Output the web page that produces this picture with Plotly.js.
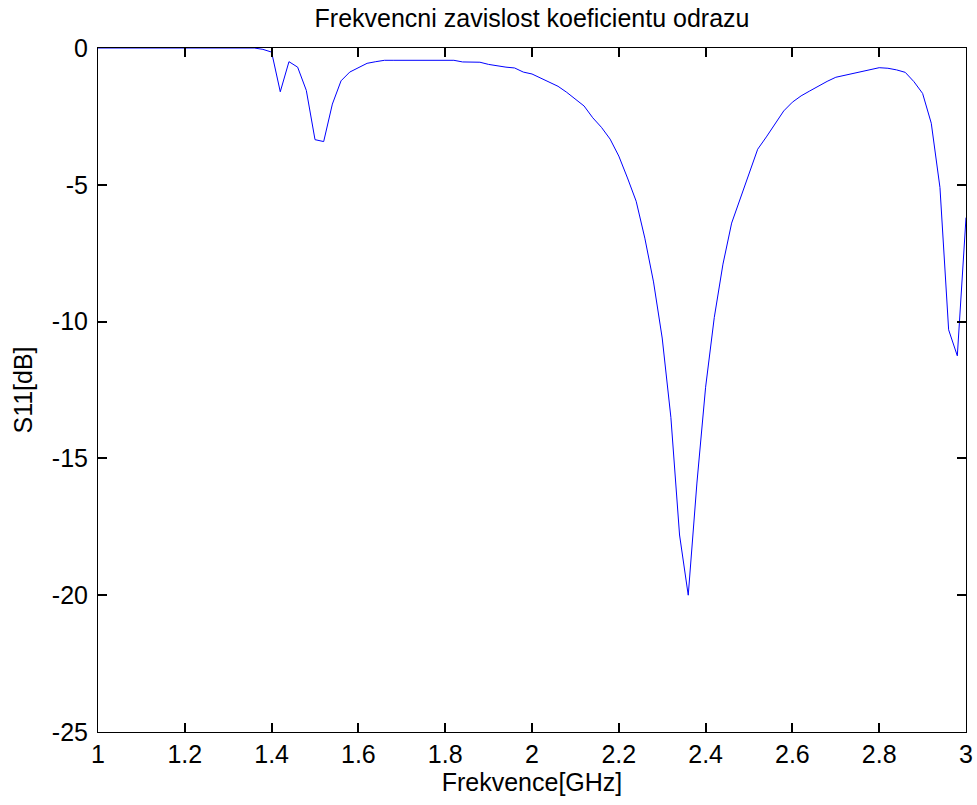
<!DOCTYPE html>
<html>
<head>
<meta charset="utf-8">
<script src="https://cdn.plot.ly/plotly-3.0.1.min.js"></script>
<style>html,body{margin:0;padding:0;background:#fff;}#chart{width:977px;height:805px;}</style>
</head>
<body>
<div id="chart"></div>
<script>
const freqGHz = [
  1.00, 1.02, 1.04, 1.06, 1.08, 1.10, 1.12, 1.14, 1.16, 1.18,
  1.20, 1.22, 1.24, 1.26, 1.28, 1.30, 1.32, 1.34, 1.36, 1.38,
  1.40, 1.42, 1.44, 1.46, 1.48, 1.50, 1.52, 1.54, 1.56, 1.58,
  1.60, 1.62, 1.64, 1.66, 1.68, 1.70, 1.72, 1.74, 1.76, 1.78,
  1.80, 1.82, 1.84, 1.86, 1.88, 1.90, 1.92, 1.94, 1.96, 1.98,
  2.00, 2.02, 2.04, 2.06, 2.08, 2.10, 2.12, 2.14, 2.16, 2.18,
  2.20, 2.22, 2.24, 2.26, 2.28, 2.30, 2.32, 2.34, 2.36, 2.38,
  2.40, 2.42, 2.44, 2.46, 2.48, 2.50, 2.52, 2.54, 2.56, 2.58,
  2.60, 2.62, 2.64, 2.66, 2.68, 2.70, 2.72, 2.74, 2.76, 2.78,
  2.80, 2.82, 2.84, 2.86, 2.88, 2.90, 2.92, 2.94, 2.96, 2.98,
  3.00
];
const s11dB = [
  0, 0, 0, 0, 0, 0, 0, 0, 0, 0,
  0, 0, 0, 0, 0, 0, 0, 0, 0, -0.05,
  -0.15, -1.6, -0.5, -0.7, -1.55, -3.35, -3.42, -2.05, -1.2, -0.88,
  -0.72, -0.56, -0.5, -0.45, -0.45, -0.45, -0.45, -0.45, -0.45, -0.45,
  -0.45, -0.45, -0.51, -0.51, -0.52, -0.6, -0.66, -0.7, -0.73, -0.88,
  -0.95, -1.1, -1.25, -1.4, -1.62, -1.88, -2.12, -2.55, -2.9, -3.33,
  -3.95, -4.75, -5.6, -6.95, -8.55, -10.6, -13.5, -17.8, -20.0, -15.9,
  -12.4, -9.85, -7.9, -6.4, -5.5, -4.55, -3.7, -3.25, -2.75, -2.3,
  -1.98, -1.75, -1.57, -1.38, -1.22, -1.07, -1.0, -0.93, -0.86, -0.79,
  -0.72, -0.74, -0.8, -0.89, -1.23, -1.66, -2.75, -5.1, -10.3, -11.25,
  -6.2
];
const xTicks = [1, 1.2, 1.4, 1.6, 1.8, 2, 2.2, 2.4, 2.6, 2.8, 3];
const xTickText = ['1', '1.2', '1.4', '1.6', '1.8', '2', '2.2', '2.4', '2.6', '2.8', '3'];
const yTicks = [-25, -20, -15, -10, -5, 0];
const yTickText = ['-25', '-20', '-15', '-10', '-5', '0'];

const fontFam = 'Liberation Sans, Arial, Helvetica, sans-serif';
const trace = {
  x: freqGHz, y: s11dB, type: 'scatter', mode: 'lines',
  line: {color: '#0000ff', width: 1}, hoverinfo: 'skip', cliponaxis: false
};
const axisCommon = {
  showline: true, linecolor: '#000', linewidth: 1, mirror: 'allticks',
  ticks: 'inside', ticklen: 9, tickcolor: '#000', tickwidth: 2,
  showgrid: false, zeroline: false, tickmode: 'array',
  tickfont: {family: fontFam, size: 25, color: '#000'}
};
const layout = {
  width: 977, height: 805,
  margin: {l: 98, r: 11, t: 48, b: 73, pad: 0},
  paper_bgcolor: '#fff', plot_bgcolor: 'rgba(0,0,0,0)',
  showlegend: false,
  font: {family: fontFam, color: '#000'},
  title: {text: 'Frekvencni zavislost koeficientu odrazu', font: {family: fontFam, size: 25, color: '#000'},
          xref: 'paper', x: 0.5, xanchor: 'center', yref: 'container', y: 1 - 18/805, yanchor: 'middle'},
  xaxis: Object.assign({}, axisCommon, {
    range: [1, 3], tickvals: xTicks, ticktext: xTickText, ticklabelstandoff: 0,
    title: {text: 'Frekvence[GHz]', font: {family: fontFam, size: 25, color: '#000'}, standoff: 0}
  }),
  yaxis: Object.assign({}, axisCommon, {
    range: [-25, 0], tickvals: yTicks, ticktext: yTickText, ticklabelstandoff: 4,
    title: {text: 'S11[dB]', font: {family: fontFam, size: 25, color: '#000'}, standoff: 12}
  })
};
Plotly.newPlot('chart', [trace], layout, {staticPlot: true, displayModeBar: false});
</script>
</body>
</html>
